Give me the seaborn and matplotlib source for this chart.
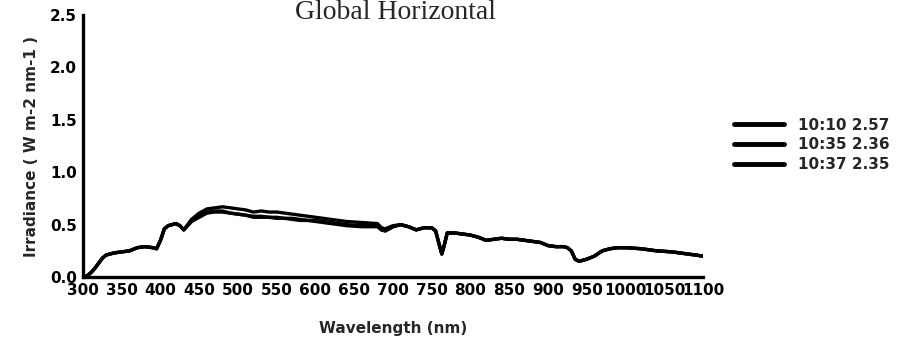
import pandas as pd
import matplotlib.pyplot as plt
import seaborn as sns

# Wavelength grid (nm)
wavelength = [300, 305, 310, 315, 320, 325, 330, 335, 340, 350, 360, 370, 380, 390, 395,
              400, 405, 410, 420, 425, 430, 435, 440, 450, 460, 470, 480, 490, 500, 510,
              520, 530, 540, 550, 560, 570, 580, 590, 600, 620, 640, 660, 680, 685, 690,
              700, 710, 720, 730, 740, 750, 755, 760, 763, 766, 770, 780, 790, 800, 810,
              820, 830, 840, 850, 860, 870, 880, 890, 900, 910, 920, 925, 930, 935, 940,
              950, 960, 970, 980, 990, 1000, 1020, 1040, 1060, 1080, 1100]

# Irradiance (W m-2 nm-1) for the three scans
scan_1010 = [0.00, 0.01, 0.04, 0.08, 0.13, 0.18, 0.21, 0.22, 0.23, 0.24, 0.25, 0.28, 0.29, 0.28, 0.27,
             0.35, 0.46, 0.49, 0.51, 0.49, 0.45, 0.50, 0.55, 0.61, 0.65, 0.66, 0.67, 0.66, 0.65, 0.64,
             0.62, 0.63, 0.62, 0.62, 0.61, 0.60, 0.59, 0.58, 0.57, 0.55, 0.53, 0.52, 0.51, 0.47, 0.46,
             0.49, 0.50, 0.48, 0.45, 0.47, 0.47, 0.44, 0.30, 0.22, 0.30, 0.42, 0.42, 0.41, 0.40, 0.38,
             0.35, 0.36, 0.37, 0.36, 0.36, 0.35, 0.34, 0.33, 0.30, 0.29, 0.29, 0.28, 0.25, 0.17, 0.15,
             0.17, 0.20, 0.25, 0.27, 0.28, 0.28, 0.27, 0.25, 0.24, 0.22, 0.20]
scan_1035 = [0.00, 0.01, 0.04, 0.08, 0.13, 0.18, 0.21, 0.22, 0.23, 0.24, 0.25, 0.28, 0.29, 0.28, 0.27,
             0.35, 0.46, 0.49, 0.51, 0.49, 0.45, 0.49, 0.53, 0.57, 0.61, 0.62, 0.62, 0.61, 0.60, 0.59,
             0.57, 0.57, 0.57, 0.56, 0.56, 0.55, 0.54, 0.54, 0.53, 0.51, 0.49, 0.48, 0.48, 0.45, 0.44,
             0.48, 0.50, 0.48, 0.45, 0.47, 0.47, 0.44, 0.30, 0.22, 0.30, 0.42, 0.42, 0.41, 0.40, 0.38,
             0.35, 0.36, 0.37, 0.36, 0.36, 0.35, 0.34, 0.33, 0.30, 0.29, 0.29, 0.28, 0.25, 0.17, 0.15,
             0.17, 0.20, 0.25, 0.27, 0.28, 0.28, 0.27, 0.25, 0.24, 0.22, 0.20]
scan_1037 = [0.00, 0.01, 0.04, 0.08, 0.13, 0.18, 0.21, 0.22, 0.23, 0.24, 0.25, 0.28, 0.29, 0.28, 0.27,
             0.35, 0.46, 0.49, 0.51, 0.49, 0.45, 0.49, 0.53, 0.58, 0.62, 0.63, 0.63, 0.61, 0.60, 0.59,
             0.58, 0.58, 0.57, 0.57, 0.56, 0.56, 0.55, 0.54, 0.54, 0.52, 0.50, 0.49, 0.49, 0.45, 0.44,
             0.48, 0.50, 0.48, 0.45, 0.47, 0.47, 0.44, 0.30, 0.22, 0.30, 0.42, 0.42, 0.41, 0.40, 0.38,
             0.35, 0.36, 0.37, 0.36, 0.36, 0.35, 0.34, 0.33, 0.30, 0.29, 0.29, 0.28, 0.25, 0.17, 0.15,
             0.17, 0.20, 0.25, 0.27, 0.28, 0.28, 0.27, 0.25, 0.24, 0.22, 0.20]

legend_labels = ['10:10 2.57', '10:35 2.36', '10:37 2.35']
x_ticks = list(range(300, 1101, 50))
y_ticks = [0.0, 0.5, 1.0, 1.5, 2.0, 2.5]

sns.set_style('white')
plt.rcParams['font.family'] = ['DejaVu Sans']

# Long format table for seaborn
spectra = pd.DataFrame({
    'Wavelength': wavelength * 3,
    'Irradiance': scan_1010 + scan_1035 + scan_1037,
    'Scan': [legend_labels[0]] * len(wavelength) + [legend_labels[1]] * len(wavelength)
            + [legend_labels[2]] * len(wavelength),
})

fig = plt.figure(figsize=(8.99, 3.45), dpi=100)
ax = fig.add_axes([0.0923, 0.197, 0.6897, 0.7596])

sns.lineplot(data=spectra, x='Wavelength', y='Irradiance', hue='Scan',
             palette=['black', 'black', 'black'], linewidth=2.4, ax=ax)

ax.set_xlim(300, 1100)
ax.set_ylim(0, 2.5)
ax.set_xticks(x_ticks)
ax.set_xticklabels([str(t) for t in x_ticks], fontweight='bold', fontsize=11)
ax.set_yticks(y_ticks)
ax.set_yticklabels(['%.1f' % t for t in y_ticks], fontweight='bold', fontsize=11)
ax.tick_params(direction='inout', length=9, width=2, pad=0, colors='black')

for side in ['top', 'right']:
    ax.spines[side].set_visible(False)
for side in ['left', 'bottom']:
    ax.spines[side].set_linewidth(2.4)
    ax.spines[side].set_color('black')

ax.set_xlabel('Wavelength (nm)', fontweight='bold', fontsize=11, labelpad=16)
ax.set_ylabel('Irradiance ( W m-2 nm-1 )', fontweight='bold', fontsize=11, labelpad=8)

# Title right at the top edge of the page
fig.text(0.44, 0.999, 'Global Horizontal', ha='center', va='top',
         fontsize=20, family='Liberation Serif')

handles, labels = ax.get_legend_handles_labels()
ax.legend(handles, labels, loc='upper left', bbox_to_anchor=(0.808, 0.681),
          bbox_transform=fig.transFigure, frameon=False, borderpad=0,
          handlelength=3.3, handletextpad=0.9, labelspacing=0.3,
          prop={'weight': 'bold', 'size': 11})
for line in ax.get_legend().get_lines():
    line.set_linewidth(3.5)

fig.savefig('out.png', dpi=100)
